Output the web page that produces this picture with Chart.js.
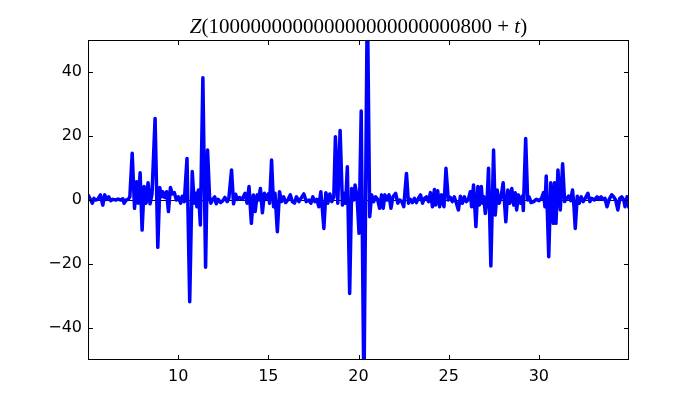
<!DOCTYPE html>
<html>
<head>
<meta charset="utf-8">
<script src="https://cdn.jsdelivr.net/npm/chart.js@4.4.1/dist/chart.umd.min.js"></script>
<style>
  html, body { margin: 0; padding: 0; background: #fff; }
  canvas { display: block; }
</style>
</head>
<body>
<canvas id="zChart" width="700" height="400"></canvas>
<script>
// t values (x)
const tValues = [
    5.00, 5.15, 5.24, 5.33, 5.42, 5.54, 5.69, 5.82, 5.93, 6.04, 6.15, 6.26, 6.38, 6.53, 6.67, 6.82, 6.93, 7.00, 7.12, 7.23,
    7.32, 7.45, 7.58, 7.69, 7.78, 7.89, 8.00, 8.11, 8.22, 8.33, 8.44, 8.55, 8.72, 8.87, 8.98, 9.07, 9.14, 9.25, 9.36, 9.46,
    9.57, 9.68, 9.79, 9.90, 10.01, 10.14, 10.23, 10.34, 10.49, 10.64, 10.78, 10.89, 10.97, 11.04, 11.12, 11.23, 11.37, 11.52,
    11.63, 11.74, 11.81, 11.92, 12.03, 12.11, 12.22, 12.35, 12.48, 12.59, 12.72, 12.81, 12.96, 13.07, 13.18, 13.29, 13.40, 13.55,
    13.71, 13.82, 13.93, 14.06, 14.17, 14.27, 14.38, 14.45, 14.56, 14.67, 14.78, 14.89, 15.00, 15.07, 15.18, 15.29, 15.37, 15.50,
    15.62, 15.73, 15.85, 15.96, 16.10, 16.22, 16.33, 16.45, 16.56, 16.70, 16.81, 16.97, 17.10, 17.25, 17.36, 17.47, 17.58, 17.69, 17.80,
    17.91, 17.97, 18.08, 18.19, 18.30, 18.41, 18.52, 18.63, 18.72, 18.85, 18.98, 19.11, 19.22, 19.29, 19.38, 19.51, 19.62, 19.73,
    19.81, 19.92, 20.03, 20.15, 20.30, 20.49, 20.62, 20.73, 20.84, 20.95, 21.06, 21.17, 21.28, 21.37, 21.46, 21.57, 21.69, 21.80, 21.91, 22.06,
    22.18, 22.29, 22.40, 22.51, 22.66, 22.77, 22.88, 22.99, 23.10, 23.21, 23.32, 23.44, 23.55, 23.66, 23.77, 23.88, 23.99, 24.10, 24.21,
    24.28, 24.39, 24.50, 24.61, 24.74, 24.85, 24.98, 25.09, 25.20, 25.31, 25.43, 25.54, 25.65, 25.76, 25.87, 25.98, 26.09, 26.20, 26.27, 26.38,
    26.51, 26.62, 26.70, 26.81, 26.88, 26.95, 27.03, 27.14, 27.21, 27.34, 27.49, 27.58, 27.69, 27.80, 27.91, 28.02, 28.17, 28.28, 28.39, 28.50,
    28.61, 28.69, 28.77, 28.87, 28.98, 29.09, 29.14, 29.27, 29.38, 29.46, 29.57, 29.71, 29.86, 30.01, 30.15, 30.26, 30.34, 30.41, 30.55, 30.66,
    30.80, 30.87, 30.95, 31.06, 31.19, 31.32, 31.43, 31.54, 31.65, 31.76, 31.87, 31.95, 32.02, 32.13, 32.24, 32.35, 32.46, 32.57, 32.72,
    32.83, 32.94, 33.08, 33.23, 33.34, 33.45, 33.56, 33.67, 33.78, 33.90, 34.04, 34.15, 34.26, 34.38, 34.49, 34.60, 34.71, 34.78, 34.89, 35.00
];

// Z values, same order as tValues
const zValues = [
    1.6, 0, -1.0, 0.5, 0, 0.2, 1.6, -1.6, 1.6, 0.2, 1.0, -0.2, 0.2, 0, 0.3, 0, 0.4, -1.0, 0, 0.2,
    1.0, 14.6, -2.6, 5.7, -1.0, 8.5, -9.4, 4.2, -1.0, 5.4, -1.2, 1.9, 25.5, -14.8, 3.9, 1.0, 2.6, 0.8, 2.6, -3.6,
    3.9, 1.9, 2.3, 0, 1.0, -1.0, 1.2, -0.5, 13.0, -31.8, 8.9, -1.0, 2.1, -2.1, 3.1, -7.8, 38.2, -21.0,
    15.6, 1.0, -1.0, 0.2, 1.0, -1.2, 0.2, -0.8, -0.2, 0.8, -0.5, 0.5, 9.4, -1.2, 1.8, 0.2, 0.8, 0.2,
    2.1, -1.0, 4.2, -7.3, 1.6, -3.6, 1.6, 0, 3.6, -4.0, 2.1, 0.5, 1.9, -1.0, 12.5, -2.1, 2.1, -9.9,
    2.6, -0.5, 1.0, -0.8, 0.2, 1.6, -0.5, -1.0, 1.0, -0.5, 0.5, 1.9, -0.5, 0, -1.0, 1.0, -0.5, 0.2, -2.1,
    2.6, -1.0, -8.9, 2.3, -1.0, 1.9, -0.5, 1.0, 19.8, -1.0, 21.7, -1.6, 2.1, -1.0, 10.4, -29.2, 3.6, 0,
    4.7, 1.0, -10.4, 27.8, -62, 65, -5.2, 1.6, -0.5, 1.0, 0.2, -2.6, 1.6, -2.6, 1.6, 0, 1.6, -2.6, 1.0, 2.1,
    -1.0, 0, -0.5, -2.1, 8.3, -1.0, 0.2, -0.8, 0.5, -0.8, 0.5, 1.6, -1.0, 0.5, 1.0, -0.5, 2.3, -2.1, 3.3,
    -1.6, 2.9, -2.1, 1.6, -2.1, 9.9, 0, 0.8, -0.5, 1.0, -1.0, -3.1, 1.2, -1.0, 1.0, -0.5, 0.2, 2.6, -2.1, 4.7,
    -8.3, 4.2, -1.6, 4.2, -1.0, 1.0, -4.2, 1.0, 9.9, -20.6, 15.6, -4.7, 3.1, -1.0, 1.0, 5.4, -6.8, 3.1, -1.0, 3.6,
    -1.6, 2.3, -3.1, 1.6, -1.0, 1.2, -3.3, 19.2, 0, 1.0, -0.8, -0.5, 0.2, -0.2, 0.5, 2.3, -2.1, 7.5, -17.7, 5.4,
    -7.3, 5.4, -7.3, 9.4, -3.1, 11.3, -0.5, 0.5, 1.2, -0.2, 3.1, -2.1, -8.9, 1.2, -1.0, 1.0, -0.5, 0.5, 2.1,
    -0.5, 0.5, 0, 1.0, 0.2, 1.0, 0.2, 0.5, -2.1, 0.2, 1.6, 1.0, 0, -3.1, 0.5, 1.0, 0, -2.1, 1.0, -2.6
];

const xTicks = [10, 15, 20, 25, 30];
const yTicks = [-40, -20, 0, 20, 40];
const titleParts = [
    ['Z', 'italic'],
    ['(100000000000000000000000800', 'normal'],
    [' + ', 'normal'],
    ['t', 'italic'],
    [')', 'normal']
];

const points = tValues.map((t, i) => ({ x: t, y: zValues[i] }));

const axesFrame = {
    id: 'axesFrame',
    beforeDatasetsDraw(chart) {
        const { ctx, chartArea, scales } = chart;
        const y0 = Math.round(scales.y.getPixelForValue(0)) + 0.5;
        ctx.save();
        ctx.strokeStyle = '#000';
        ctx.lineWidth = 1;
        ctx.beginPath();
        ctx.moveTo(chartArea.left, y0);
        ctx.lineTo(chartArea.right, y0);
        ctx.stroke();
        ctx.restore();
    },
    afterDraw(chart) {
        const { ctx, chartArea, scales } = chart;
        const { left, right, top, bottom } = chartArea;
        ctx.save();
        ctx.strokeStyle = '#000';
        ctx.lineWidth = 1;
        ctx.strokeRect(left + 0.5, top + 0.5, right - left - 1, bottom - top - 1);
        ctx.beginPath();
        xTicks.forEach(v => {
            const x = Math.round(scales.x.getPixelForValue(v)) + 0.5;
            ctx.moveTo(x, bottom); ctx.lineTo(x, bottom - 5);
            ctx.moveTo(x, top); ctx.lineTo(x, top + 5);
        });
        yTicks.forEach(v => {
            const y = Math.round(scales.y.getPixelForValue(v)) + 0.5;
            ctx.moveTo(left, y); ctx.lineTo(left + 5, y);
            ctx.moveTo(right, y); ctx.lineTo(right - 5, y);
        });
        ctx.stroke();

        // title
        const size = 21;
        const fam = '"Liberation Serif", "DejaVu Serif", serif';
        let total = 0;
        const widths = titleParts.map(([txt, style]) => {
            ctx.font = style + ' ' + size + 'px ' + fam;
            const w = ctx.measureText(txt).width;
            total += w;
            return w;
        });
        let x = (left + right) / 2 - total / 2;
        ctx.fillStyle = '#000';
        ctx.textBaseline = 'alphabetic';
        ctx.textAlign = 'left';
        titleParts.forEach(([txt, style], i) => {
            ctx.font = style + ' ' + size + 'px ' + fam;
            ctx.fillText(txt, x, 33);
            x += widths[i];
        });
        ctx.restore();
    }
};

const fmt = v => (v < 0 ? '\u2212' + Math.abs(v) : String(v));

new Chart(document.getElementById('zChart'), {
    type: 'line',
    data: {
        datasets: [{
            data: points,
            borderColor: '#0000ff',
            borderWidth: 3.5,
            borderJoinStyle: 'round',
            pointRadius: 0,
            tension: 0,
            fill: false,
            clip: 0
        }]
    },
    options: {
        responsive: false,
        animation: false,
        events: [],
        layout: { padding: { top: 40, right: 71, left: 0, bottom: 0 } },
        plugins: {
            legend: { display: false },
            title: { display: false },
            tooltip: { enabled: false }
        },
        scales: {
            x: {
                type: 'linear',
                min: 5,
                max: 35,
                grid: { display: false, drawTicks: false },
                border: { display: false },
                afterBuildTicks: s => { s.ticks = xTicks.map(v => ({ value: v })); },
                afterFit: s => { s.height = 40; },
                ticks: {
                    padding: 7,
                    color: '#000',
                    font: { family: '"DejaVu Sans"', size: 16 },
                    callback: fmt
                }
            },
            y: {
                min: -50,
                max: 50,
                grid: { display: false, drawTicks: false },
                border: { display: false },
                afterBuildTicks: s => { s.ticks = yTicks.map(v => ({ value: v })); },
                afterFit: s => { s.width = 88; },
                ticks: {
                    padding: 6,
                    color: '#000',
                    font: { family: '"DejaVu Sans"', size: 16 },
                    callback: fmt
                }
            }
        }
    },
    plugins: [axesFrame]
});
</script>
</body>
</html>
